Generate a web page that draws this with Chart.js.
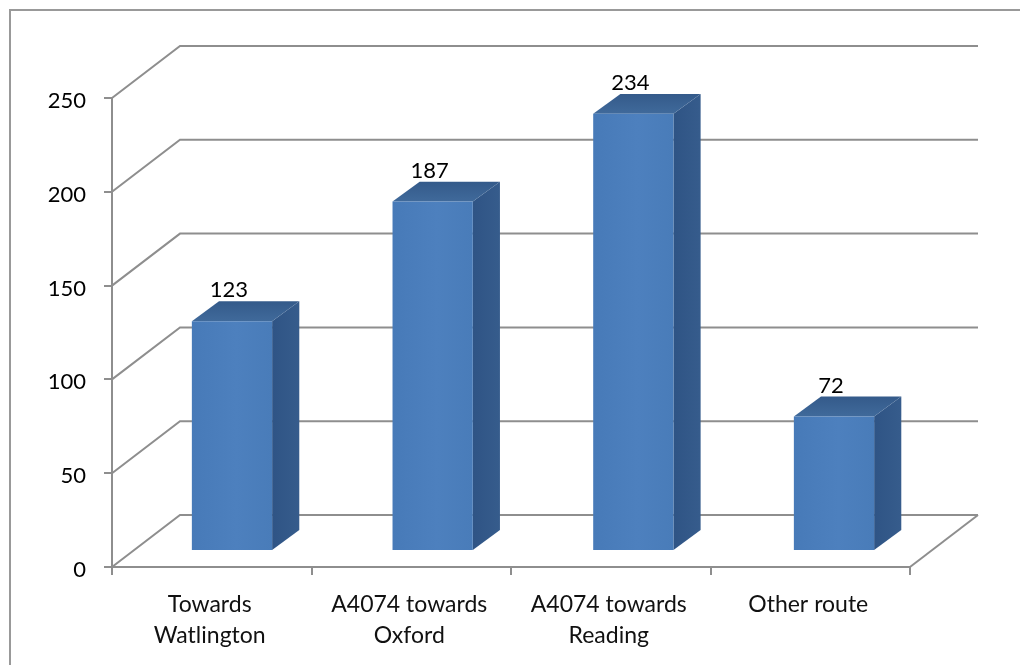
<!DOCTYPE html>
<html>
<head>
<meta charset="utf-8">
<title>Route chart</title>
<script src="https://cdn.jsdelivr.net/npm/chart.js@4"></script>
<style>
  html, body { margin: 0; padding: 0; background: #fff; }
  #wrap { position: relative; width: 1020px; height: 665px; overflow: hidden; }
</style>
</head>
<body>
<div id="wrap"><canvas id="graphicBar" width="1020" height="665"></canvas></div>
<script>
const categories = [
    ["Towards", "Watlington"],
    ["A4074 towards", "Oxford"],
    ["A4074 towards", "Reading"],
    "Other route",
];
const values = [123, 187, 234, 72];
const yTicks = [0, 50, 100, 150, 200, 250];

const lineGrey = "#8e8e8e";
const wallX = 68, wallY = -52;   // depth of the back wall
const barX = 27, barY = -20;     // depth of each bar

function line(ctx, pts, color, width) {
    ctx.beginPath();
    pts.forEach((p, i) => i ? ctx.lineTo(p[0], p[1]) : ctx.moveTo(p[0], p[1]));
    ctx.strokeStyle = color;
    ctx.lineWidth = width;
    ctx.stroke();
}

function face(ctx, pts, fill) {
    ctx.beginPath();
    pts.forEach((p, i) => i ? ctx.lineTo(p[0], p[1]) : ctx.moveTo(p[0], p[1]));
    ctx.closePath();
    ctx.fillStyle = fill;
    ctx.fill();
}

const box3d = {
    id: "box3d",
    beforeDraw(chart) {
        // frame only has a left and a top edge
        line(chart.ctx, [[10, 665], [10, 10], [1020, 10]], "#999999", 2);
    },
    beforeDatasetsDraw(chart) {
        const ctx = chart.ctx, area = chart.chartArea, y = chart.scales.y;
        ctx.save();
        yTicks.forEach((v) => {
            const py = y.getPixelForValue(v);
            line(ctx, [[area.left, py], [area.left + wallX, py + wallY], [area.right + wallX, py + wallY]], lineGrey, 2);
        });
        line(ctx, [[area.right, area.bottom], [area.right + wallX, area.bottom + wallY]], lineGrey, 2);
        ctx.restore();

        // bars stand a little way in from the front of the floor
        ctx.save();
        ctx.transform(1.00586, 0, 0, 0.996, 19, -13.7);
        chart.getDatasetMeta(0).data.forEach((bar) => {
            const l = bar.x - bar.width / 2, r = bar.x + bar.width / 2;
            const topG = ctx.createLinearGradient(0, bar.y + barY, 0, bar.y);
            topG.addColorStop(0, "#345a8a");
            topG.addColorStop(1, "#406a9b");
            const sideG = ctx.createLinearGradient(r, 0, r + barX, 0);
            sideG.addColorStop(0, "#2f5485");
            sideG.addColorStop(1, "#365c8c");
            face(ctx, [[r, bar.y], [r + barX, bar.y + barY], [r + barX, bar.base + barY], [r, bar.base]], sideG);
            face(ctx, [[l, bar.y], [l + barX, bar.y + barY], [r + barX, bar.y + barY], [r, bar.y]], topG);
        });
    },
    afterDatasetsDraw(chart) {
        const ctx = chart.ctx;
        ctx.restore();
        ctx.save();
        ctx.font = "22px Lato";
        ctx.fillStyle = "#000";
        ctx.textAlign = "center";
        ctx.textBaseline = "alphabetic";
        chart.getDatasetMeta(0).data.forEach((bar, i) => {
            const cx = bar.x * 1.00586 + 19;
            const topY = bar.y * 0.996 - 13.7 + barY;
            ctx.fillText(String(values[i]), cx - 3, topY - 4);
        });
        ctx.restore();
    },
};

new Chart(document.getElementById("graphicBar"), {
    type: "bar",
    data: {
        labels: categories,
        datasets: [{
            data: values,
            barPercentage: 0.4,
            categoryPercentage: 1,
            backgroundColor(c) {
                const x = c.chart.scales.x;
                if (!x || !c.chart.chartArea) return "#4a7ebb";
                const mid = x.getPixelForValue(c.dataIndex);
                const g = c.chart.ctx.createLinearGradient(mid - 40, 0, mid + 40, 0);
                g.addColorStop(0, "#477ab8");
                g.addColorStop(0.55, "#4d80be");
                g.addColorStop(1, "#497cb9");
                return g;
            },
        }],
    },
    options: {
        responsive: false,
        animation: false,
        events: [],
        font: { family: "Lato" },
        layout: { padding: { top: 98, right: 110, left: 0, bottom: 0 } },
        plugins: { legend: { display: false }, tooltip: { enabled: false } },
        scales: {
            x: {
                afterFit(scale) { scale.height = 98; },
                border: { color: lineGrey, width: 2 },
                grid: { drawOnChartArea: false, color: lineGrey, lineWidth: 2, tickLength: 8 },
                ticks: { color: "#111", padding: 14, labelOffset: -2, maxRotation: 0, autoSkip: false, font: { family: "Lato", size: 23, lineHeight: 1.35 } },
            },
            y: {
                min: 0,
                max: 250,
                afterFit(scale) { scale.width = 112; },
                border: { color: lineGrey, width: 2 },
                grid: { drawOnChartArea: false, color: lineGrey, lineWidth: 2, tickLength: 8 },
                ticks: { color: "#000", padding: 18, stepSize: 50, labelOffset: 3, font: { family: "Lato", size: 22 } },
            },
        },
    },
    plugins: [box3d],
});
</script>
</body>
</html>
